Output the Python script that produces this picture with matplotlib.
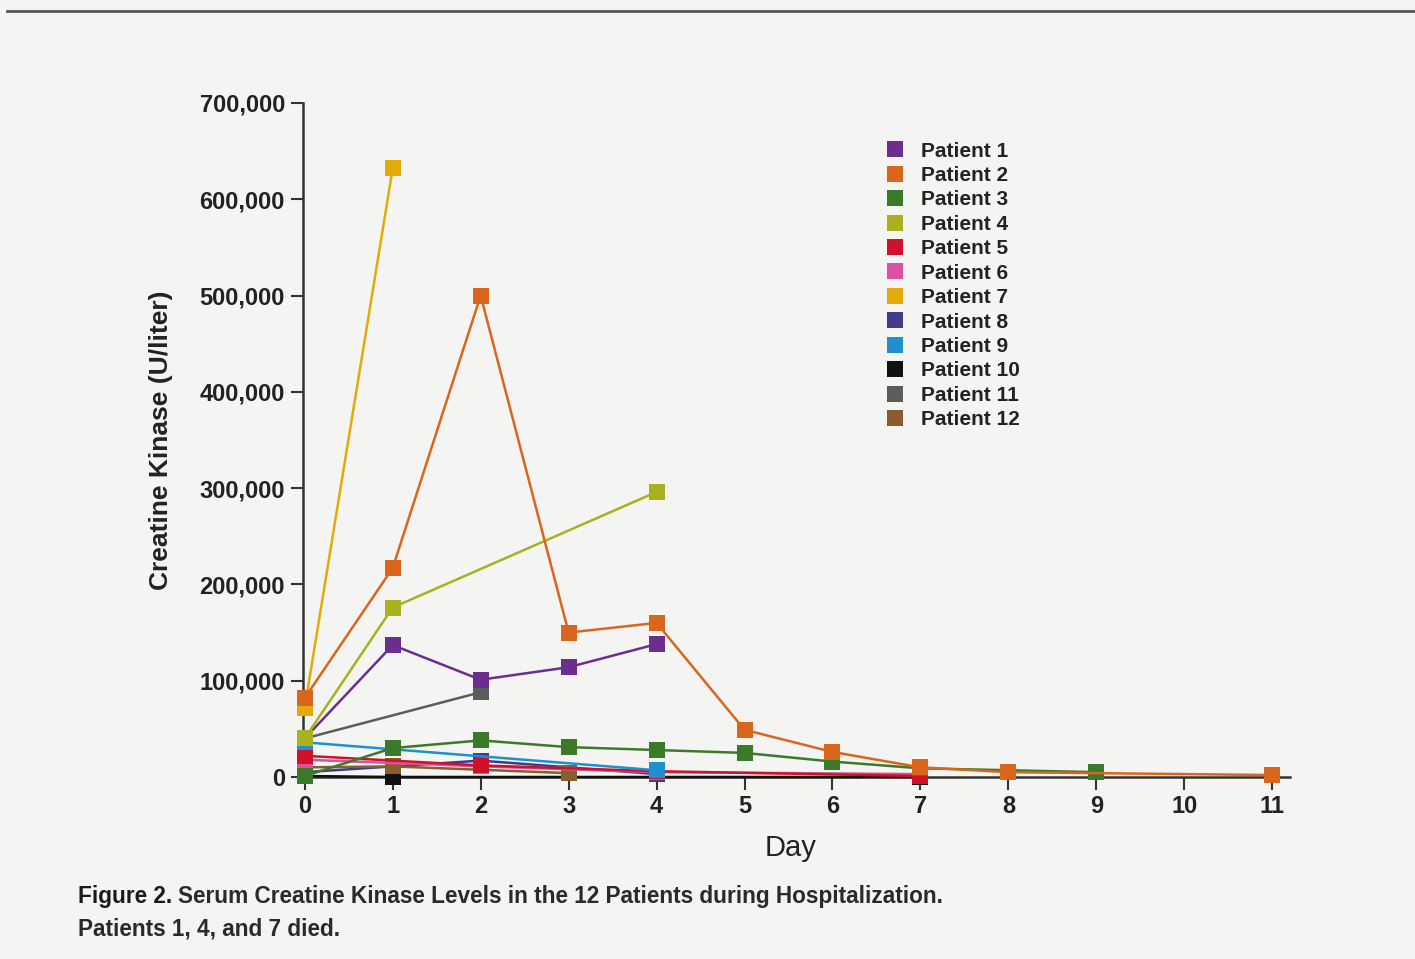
import numpy as np
import matplotlib
matplotlib.use("Agg")
import matplotlib.pyplot as plt
from matplotlib.lines import Line2D

plt.rcParams['font.family'] = ['Liberation Sans', 'DejaVu Sans']

# Serum creatine kinase (U/liter) by hospital day; None = not measured
days = list(range(12))
patients = [f"Patient {i}" for i in range(1, 13)]
ck = {
    "Patient 1":  [40000, 137000, 101000, 114000, 138000, None, None, None, None, None, None, None],
    "Patient 2":  [82000, 217000, 500000, 150000, 160000, 49000, 26000, 10000, 5000, None, None, 2000],
    "Patient 3":  [1000, 30000, 38000, 31000, 28000, 25000, 16000, 9000, None, 5000, None, None],
    "Patient 4":  [40000, 176000, None, None, 296000, None, None, None, None, None, None, None],
    "Patient 5":  [22000, None, 12000, None, 6000, None, None, 1000, None, None, None, None],
    "Patient 6":  [18000, None, 11000, None, 5000, None, None, 3000, None, None, None, None],
    "Patient 7":  [72000, 632000, None, None, None, None, None, None, None, None, None, None],
    "Patient 8":  [5000, None, 17000, None, 3000, None, None, None, None, None, None, None],
    "Patient 9":  [36000, None, None, None, 7000, None, None, None, None, None, None, None],
    "Patient 10": [1000, 0, None, None, None, None, None, 0, None, None, None, None],
    "Patient 11": [40000, None, 88000, None, None, None, None, None, None, None, None, None],
    "Patient 12": [10000, 11000, None, 4000, None, None, None, None, None, None, None, None],
}
colors = {
    "Patient 1": "#6b2e8f", "Patient 2": "#d9661c", "Patient 3": "#3b7a2a",
    "Patient 4": "#a9b11e", "Patient 5": "#d0112b", "Patient 6": "#d9529f",
    "Patient 7": "#e3aa0a", "Patient 8": "#3f3c8c", "Patient 9": "#1e8fcf",
    "Patient 10": "#111111", "Patient 11": "#5c5c5c", "Patient 12": "#8a5c2e",
}
yticks = [0, 100000, 200000, 300000, 400000, 500000, 600000, 700000]
ytick_labels = ["0", "100,000", "200,000", "300,000", "400,000", "500,000", "600,000", "700,000"]

bg = "#f4f4f2"
fig = plt.figure(figsize=(14.15, 9.59), dpi=100, facecolor=bg)
ax = fig.add_axes([0.2141, 0.1898, 0.6975, 0.7028])
ax.set_facecolor(bg)

# draw low series first so the large ones sit on top
order = ["Patient 10", "Patient 8", "Patient 12", "Patient 6", "Patient 5", "Patient 9",
         "Patient 11", "Patient 3", "Patient 1", "Patient 4", "Patient 7", "Patient 2"]
for name in order:
    vals = ck[name]
    xs = [d for d, v in zip(days, vals) if v is not None]
    ys = [v for v in vals if v is not None]
    ax.plot(xs, ys, color=colors[name], lw=1.8, marker="s", ms=11.5,
            markeredgewidth=0, clip_on=False, zorder=3)

ax.set_xlim(-0.02, 11.2)
ax.set_ylim(0, 700000)
ax.set_xticks(days)
ax.set_xticklabels([str(d) for d in days], fontsize=17, fontweight="bold", color="#222222")
ax.set_yticks(yticks)
ax.set_yticklabels(ytick_labels, fontsize=17, fontweight="bold", color="#222222")
ax.tick_params(axis="both", direction="out", length=9, width=1.5, color="#333333", pad=4)

for side in ("top", "right"):
    ax.spines[side].set_visible(False)
for side in ("left", "bottom"):
    ax.spines[side].set_color("#333333")
    ax.spines[side].set_linewidth(1.8)

ax.set_xlabel("Day", fontsize=21, color="#222222")
ax.xaxis.set_label_coords(0.494, -0.085)
ax.set_ylabel("Creatine Kinase (U/liter)", fontsize=19, fontweight="bold", color="#222222")
ax.yaxis.set_label_coords(-0.132, 0.5)

handles = [Line2D([], [], ls="none", marker="s", ms=11.5, markeredgewidth=0, color=colors[p])
           for p in patients]
leg = ax.legend(handles, patients, loc="upper left", bbox_to_anchor=(0.57, 0.955),
                frameon=False, prop={"size": 15, "weight": "bold"},
                handletextpad=0.25, labelspacing=0.26, borderaxespad=0)
for t in leg.get_texts():
    t.set_color("#222222")

fig.text(0.055, 0.058, "Figure 2.", fontsize=16.3, fontweight="bold", color="#1a1a1a", va="baseline")
fig.text(0.126, 0.058, "Serum Creatine Kinase Levels in the 12 Patients during Hospitalization.",
         fontsize=16.3, fontweight="semibold", color="#2a2a2a", va="baseline")
fig.text(0.055, 0.025, "Patients 1, 4, and 7 died.", fontsize=16.3, fontweight="semibold",
         color="#2a2a2a", va="baseline")

fig.add_artist(Line2D([0.005, 1.0], [0.989, 0.989], transform=fig.transFigure,
                      color="#555555", lw=2))

fig.savefig("out.png", dpi=100, facecolor=bg)
